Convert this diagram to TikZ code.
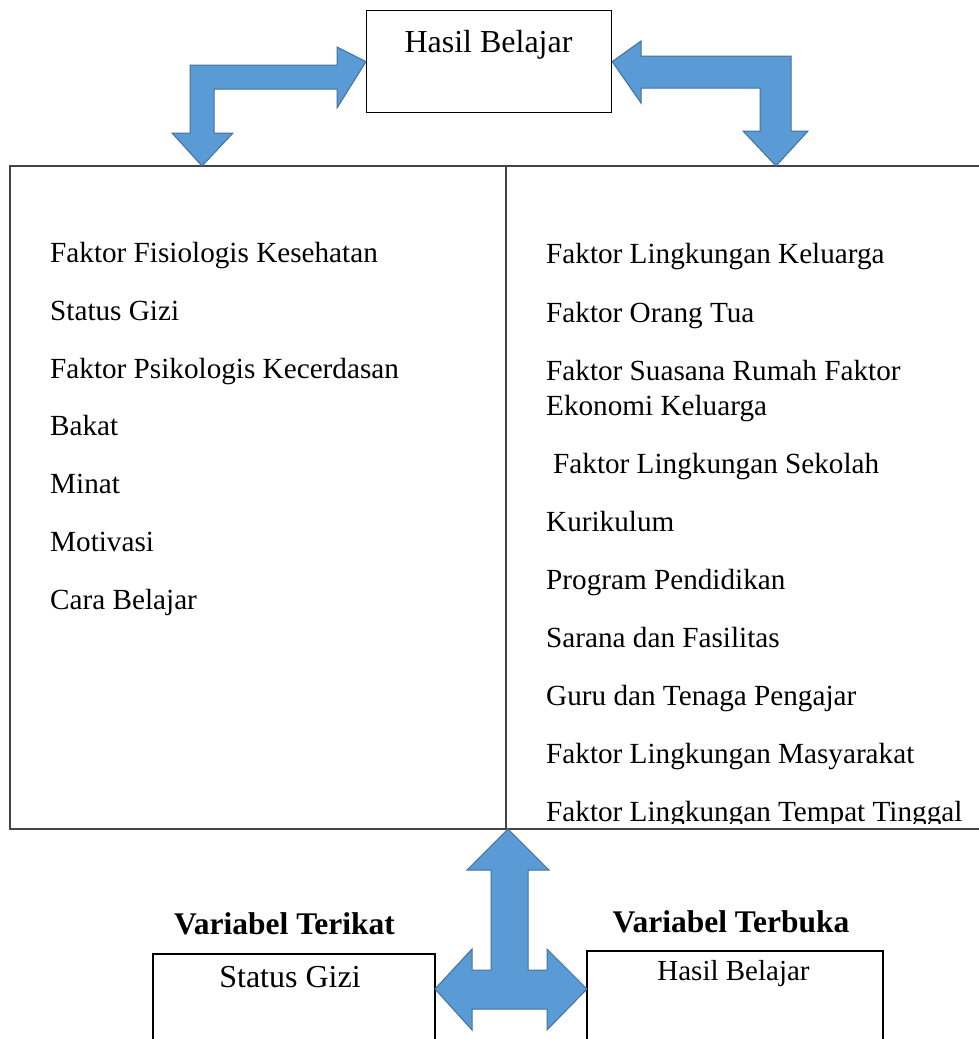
\documentclass[tikz,border=0pt]{standalone}
\usepackage{fontspec}
\setmainfont{Liberation Serif}
\definecolor{arrfill}{HTML}{5B9BD5}
\definecolor{arrline}{HTML}{41719C}
\definecolor{frameline}{HTML}{444444}
\tikzset{
  blockarrow/.style={fill=arrfill, draw=arrline, line width=1pt, line join=miter},
  item/.style={anchor=base west, inner sep=0pt, font=\fontsize{29.2}{35}\selectfont},
  framebox/.style={draw=frameline, line width=1.4pt},
  varbox/.style={draw=black, line width=2pt},
}
\begin{document}
\begin{tikzpicture}[x=1pt,y=-1pt]
\useasboundingbox (0,0) rectangle (979,1039);
% top box
\node[framebox, draw=black, line width=1.2pt, minimum width=245pt, minimum height=102pt, inner sep=0pt, anchor=north west] (topbox) at (366,10) {};
\node[anchor=base, inner sep=0pt, font=\fontsize{32}{38}\selectfont] (toplabel) at (488.5,52) {Hasil Belajar};
% big frame
\draw[framebox] (979,166) -- (10,166) -- (10,829) -- (979,829);
\draw[framebox] (506,166) -- (506,829);
\coordinate (frameL) at (202,166);
\coordinate (frameR) at (776,166);
% left column
\node[item] (l1) at (50,262) {Faktor Fisiologis Kesehatan};
\node[item] (l2) at (50,320) {Status Gizi};
\node[item] (l3) at (50,378) {Faktor Psikologis Kecerdasan};
\node[item] (l4) at (50,435) {Bakat};
\node[item] (l5) at (50,493) {Minat};
\node[item] (l6) at (50,551) {Motivasi};
\node[item] (l7) at (50,609) {Cara Belajar};
% right column
\node[item] (r1) at (546,263) {Faktor Lingkungan Keluarga};
\node[item] (r2) at (546,322) {Faktor Orang Tua};
\node[item] (r3) at (546,380) {Faktor Suasana Rumah Faktor};
\node[item] (r3b) at (546,415) {Ekonomi Keluarga};
\node[item] (r4) at (553,473) {Faktor Lingkungan Sekolah};
\node[item] (r5) at (546,531) {Kurikulum};
\node[item] (r6) at (546,589) {Program Pendidikan};
\node[item] (r7) at (546,647) {Sarana dan Fasilitas};
\node[item] (r8) at (546,705) {Guru dan Tenaga Pengajar};
\node[item] (r9) at (546,763) {Faktor Lingkungan Masyarakat};
\begin{scope}
\clip (10,166) rectangle (979,823);
\node[item] (r10) at (546,821) {Faktor Lingkungan Tempat Tinggal};
\end{scope}
% top-left bent arrow
\draw[blockarrow] (topbox.west) -- (337,47) -- (337,65) -- (190,65) -- (190,133) -- (172,133) -- (frameL) -- (233,133) -- (214,133) -- (214,89) -- (337,89) -- (337,108) -- cycle;
% top-right bent arrow
\draw[blockarrow] (topbox.east) -- (641,41) -- (641,56) -- (791,56) -- (791,131) -- (808,131) -- (frameR) -- (743,131) -- (760,131) -- (760,88) -- (641,88) -- (641,103) -- cycle;
% bottom headings
\node[anchor=base, inner sep=0pt, font=\bfseries\fontsize{31.5}{38}\selectfont] (vt) at (284.5,934) {Variabel Terikat};
\node[anchor=base, inner sep=0pt, font=\bfseries\fontsize{31.5}{38}\selectfont] (vb) at (731,932) {Variabel Terbuka};
% bottom boxes
\draw[varbox] (153,1045) -- (153,954) -- (435,954) -- (435,1045);
\coordinate (sgE) at (435,989);
\node[anchor=base, inner sep=0pt, font=\fontsize{32}{38}\selectfont] (sg) at (290,987) {Status Gizi};
\draw[varbox] (587,1045) -- (587,951) -- (883,951) -- (883,1045);
\coordinate (hbW) at (587,989);
\node[anchor=base, inner sep=0pt, font=\fontsize{29}{35}\selectfont] (hb) at (733.5,980) {Hasil Belajar};
% bottom T arrow
\coordinate (frameB) at (508,829);
\draw[blockarrow] (frameB) -- (549,870) -- (528,870) -- (528,970) -- (547,970) -- (547,949) -- (hbW) -- (547,1030) -- (547,1009) -- (472,1009) -- (472,1030) -- (sgE) -- (472,949) -- (472,970) -- (491,970) -- (491,870) -- (467,870) -- cycle;
\end{tikzpicture}
\end{document}
